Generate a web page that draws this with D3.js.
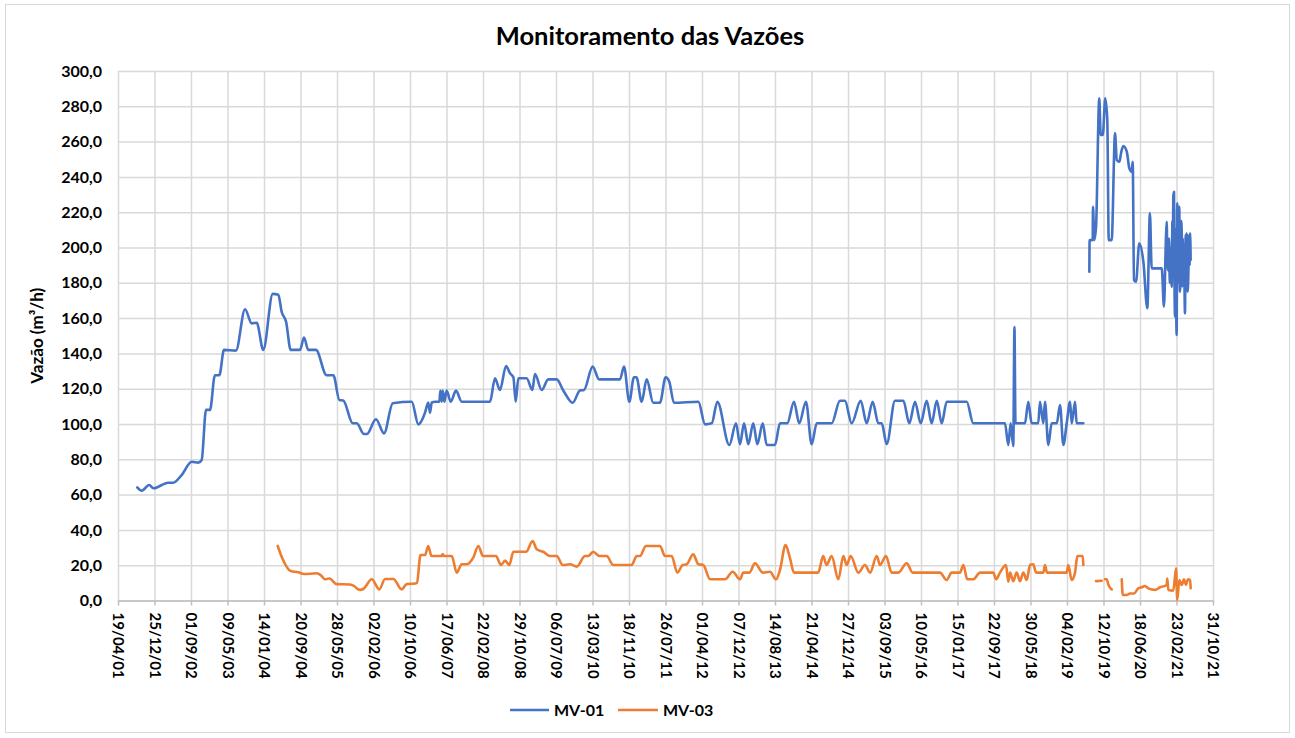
<!DOCTYPE html>
<html>
<head>
<meta charset="utf-8">
<script src="https://cdn.jsdelivr.net/npm/d3@7"></script>
<style>
  html, body { margin: 0; padding: 0; background: #ffffff; }
  svg { display: block; font-family: Lato, "Open Sans", sans-serif; }
</style>
</head>
<body>
<svg id="chart" width="1295" height="738"></svg>
<script>
// ---- Data -------------------------------------------------------------
const xTickLabels = ["19/04/01","25/12/01","01/09/02","09/05/03","14/01/04","20/09/04","28/05/05",
  "02/02/06","10/10/06","17/06/07","22/02/08","29/10/08","06/07/09","13/03/10","18/11/10","26/07/11",
  "01/04/12","07/12/12","14/08/13","21/04/14","27/12/14","03/09/15","10/05/16","15/01/17","22/09/17",
  "30/05/18","04/02/19","12/10/19","18/06/20","23/02/21","31/10/21"];
const yTicks = [0,20,40,60,80,100,120,140,160,180,200,220,240,260,280,300];
const seriesNames = ["MV-01", "MV-03"];

// MV-01 flow readings (m³/h); null marks a break in the record
const mv01Dates = [
  "2001-08-29","2001-09-28","2001-11-19","2001-12-17","2002-03-29","2002-05-02","2002-06-29","2002-09-06",
  "2002-10-21","2002-11-13","2002-12-13","2003-01-09","2003-02-12","2003-03-14","2003-04-15","2003-07-06",
  "2003-09-06","2003-10-22","2003-11-25","2004-01-09","2004-03-14","2004-04-21","2004-05-14","2004-06-13",
  "2004-07-15","2004-09-17","2004-10-14","2004-11-12","2005-01-04","2005-03-18","2005-05-03","2005-06-13",
  "2005-07-10","2005-09-13","2005-10-10","2005-11-29","2005-12-18","2006-02-19","2006-04-15","2006-06-14",
  "2006-10-22","2006-12-06","2007-01-21","2007-02-12","2007-02-24","2007-03-08","2007-03-30","2007-04-29",
  "2007-05-06","2007-05-15","2007-05-22","2007-06-02","2007-06-18","2007-07-16","2007-08-21","2007-09-29",
  "2008-04-10","2008-05-14","2008-06-17","2008-07-29","2008-08-25","2008-09-17","2008-10-03","2008-10-21",
  "2008-12-17","2009-01-25","2009-02-12","2009-03-30","2009-05-14","2009-07-11","2009-08-25","2009-10-28",
  "2009-12-17","2010-01-14","2010-03-14","2010-04-27","2010-09-17","2010-10-15","2010-11-20","2010-12-22",
  "2011-01-08","2011-02-13","2011-03-19","2011-05-03","2011-06-18","2011-07-27","2011-08-21","2011-09-22",
  "2012-03-07","2012-04-22","2012-06-07","2012-07-15","2012-10-05","2012-11-20","2012-12-17","2013-01-14",
  "2013-02-12","2013-03-18","2013-04-15","2013-05-22","2013-06-18","2013-08-14","2013-09-17","2013-11-06",
  "2013-12-22","2014-01-27","2014-03-14","2014-04-22","2014-05-27","2014-09-06","2014-11-02","2014-12-06",
  "2015-01-21","2015-03-24","2015-05-04","2015-06-14","2015-07-23","2015-08-15","2015-09-18","2015-11-14",
  "2016-01-10","2016-02-20","2016-03-30","2016-05-08","2016-06-18","2016-07-22","2016-08-26","2016-09-29",
  "2016-11-02","2017-03-19","2017-05-03","2017-12-06","2017-12-29","2018-01-14","2018-02-01","2018-02-09",
  "2018-02-16","2018-03-14","2018-04-22","2018-05-15","2018-06-07","2018-07-22","2018-08-03","2018-08-26",
  "2018-09-06","2018-09-29","2018-10-22","2018-11-26","2018-12-18","2019-01-10","2019-02-02","2019-02-25",
  "2019-03-08","2019-03-31","2019-04-11","2019-05-27","2019-06-15",
  "2019-07-07","2019-07-09","2019-07-30","2019-08-01","2019-08-10","2019-08-22","2019-09-13","2019-09-23",
  "2019-10-07","2019-10-24","2019-11-07","2019-11-17","2019-12-07","2019-12-30","2020-01-11","2020-01-29",
  "2020-02-09","2020-02-24","2020-03-19","2020-04-06","2020-04-22","2020-04-29","2020-05-08","2020-05-22",
  "2020-06-13","2020-07-11","2020-08-07","2020-08-25","2020-09-06","2020-11-14","2020-11-29","2020-12-13",
  "2020-12-18","2020-12-23","2020-12-29","2021-01-03","2021-01-08","2021-01-13","2021-01-21","2021-01-26",
  "2021-01-29","2021-02-01","2021-02-06","2021-02-09","2021-02-13","2021-02-17","2021-02-20","2021-02-24",
  "2021-02-28","2021-03-04","2021-03-08","2021-03-14","2021-03-18","2021-03-24","2021-03-27","2021-03-31",
  "2021-04-04","2021-04-07","2021-04-11","2021-04-15","2021-04-22","2021-04-27","2021-05-01","2021-05-04",
  "2021-05-09","2021-05-15","2021-05-20","2021-05-24","2021-05-27","2021-05-31"];
const mv01Values = [
  64.1,62.2,65.4,63.6,66.7,66.7,71.1,78.6,
  78.1,79.6,108.0,108.0,127.6,127.6,142.0,141.6,
  165.0,157.0,157.4,142.0,173.7,173.2,163.6,158.0,
  142.0,142.0,149.0,142.0,142.0,127.6,127.6,113.6,
  113.3,100.4,100.4,94.3,94.3,102.7,94.7,111.8,
  112.6,99.8,106.4,112.2,106.4,112.2,112.6,112.6,
  118.9,112.6,118.9,112.6,118.9,112.6,118.9,112.6,
  112.6,125.9,119.3,132.9,128.7,126.5,112.6,125.9,
  125.9,119.3,128.3,119.3,125.3,125.3,119.0,112.0,
  119.0,119.3,132.5,125.3,125.3,132.5,112.6,126.5,
  126.5,112.6,125.3,112.0,112.0,126.5,124.0,112.0,
  112.6,99.8,100.4,112.6,88.1,100.4,88.6,100.4,
  88.6,100.4,88.6,100.4,88.1,88.1,100.4,100.4,
  112.6,100.4,112.6,88.6,100.4,100.4,113.2,113.2,
  100.4,113.2,100.4,112.6,100.4,100.4,88.6,113.2,
  113.2,100.4,112.6,100.4,113.2,100.4,113.2,100.4,
  112.6,112.6,100.4,100.4,88.1,100.4,87.5,155.0,
  100.4,100.4,100.4,112.6,100.4,100.4,112.6,100.4,
  112.6,88.1,100.4,100.4,110.8,88.1,100.4,112.6,
  100.4,112.6,100.4,100.4,null,
  186.3,204.2,204.2,223.1,204.2,211.8,284.5,263.7,
  263.7,284.5,272.2,204.2,204.2,264.7,249.6,248.6,
  253.4,257.5,254.5,244.9,243.0,248.6,181.6,180.6,
  202.4,192.0,165.6,219.4,188.2,188.2,166.5,206.0,
  214.6,190.0,187.0,205.0,180.0,200.0,177.8,215.0,
  190.0,228.8,231.6,185.0,160.8,210.0,175.0,150.4,
  225.0,180.0,220.0,223.0,175.0,187.0,215.0,208.0,
  178.0,205.0,184.0,200.0,162.7,207.0,185.0,208.0,
  175.0,184.0,207.0,190.0,208.0,193.0];

// MV-03 flow readings (m³/h); null marks a break in the record
const mv03Dates = [
  "2004-04-17","2004-05-14","2004-07-15","2004-09-05","2004-10-14","2005-01-09","2005-02-05","2005-03-07",
  "2005-04-05","2005-05-26","2005-08-24","2005-09-17","2005-11-02","2005-11-24","2006-01-21","2006-03-14",
  "2006-04-22","2006-06-18","2006-08-14","2006-09-17","2006-11-13","2006-11-27","2006-12-21","2007-01-21",
  "2007-02-12","2007-03-06","2007-05-15","2007-05-22","2007-05-29","2007-07-23","2007-08-26","2007-09-29",
  "2007-11-03","2007-12-18","2008-01-21","2008-02-22","2008-05-21","2008-06-24","2008-07-22","2008-08-20",
  "2008-09-17","2008-12-13","2009-01-27","2009-02-24","2009-04-10","2009-05-26","2009-07-11","2009-08-21",
  "2009-10-10","2009-11-25","2010-01-21","2010-02-12","2010-03-18","2010-04-29","2010-06-18","2010-08-02",
  "2010-12-06","2011-01-10","2011-02-01","2011-03-14","2011-06-18","2011-07-23","2011-09-06","2011-10-15",
  "2011-11-21","2011-12-18","2012-02-01","2012-03-07","2012-04-10","2012-05-26","2012-09-06","2012-10-28",
  "2012-12-17","2013-01-09","2013-02-19","2013-03-30","2013-05-22","2013-07-11","2013-08-21","2013-09-17",
  "2013-10-25","2013-11-25","2013-12-22","2014-06-06","2014-07-10","2014-08-02","2014-09-06","2014-10-22",
  "2014-11-25","2014-12-18","2015-01-14","2015-03-08","2015-04-22","2015-05-27","2015-07-12","2015-08-03",
  "2015-09-13","2015-10-22","2015-12-07","2016-02-02","2016-03-14","2016-09-17","2016-11-02","2016-12-06",
  "2017-02-01","2017-02-24","2017-03-23","2017-05-03","2017-06-18","2017-09-17","2017-10-06","2017-11-02",
  "2017-12-13","2017-12-29","2018-01-10","2018-02-01","2018-02-24","2018-03-19","2018-04-11","2018-05-04",
  "2018-05-27","2018-06-18","2018-07-07","2018-08-26","2018-09-06","2018-09-20","2019-02-02","2019-02-13",
  "2019-03-08","2019-03-31","2019-04-16","2019-05-23","2019-05-27","2019-07-01",
  "2019-08-22","2019-09-30","2019-10-10",
  "2019-10-22","2019-11-03","2019-11-14","2019-12-07","2020-01-10",
  "2020-02-14","2020-02-21","2020-03-19","2020-04-11","2020-05-08","2020-06-06","2020-06-30","2020-07-22",
  "2020-08-14","2020-09-29","2020-11-02","2020-12-18","2020-12-22","2020-12-29","2021-02-01","2021-02-20",
  "2021-02-28","2021-03-14","2021-03-31","2021-04-15","2021-04-29","2021-05-13","2021-05-27","2021-05-31"];
const mv03Values = [
  30.9,24.8,16.7,16.0,15.0,15.4,14.4,12.0,
  12.5,9.3,9.1,8.4,6.0,6.5,12.0,6.3,
  12.2,12.2,6.3,9.3,9.6,10.1,25.8,25.8,
  30.9,25.2,25.2,26.3,25.2,25.2,15.8,20.5,
  20.5,24.4,30.9,25.2,25.2,20.1,22.6,20.1,
  27.6,27.6,33.7,29.0,27.6,25.2,25.2,20.1,
  20.5,19.2,25.2,25.2,27.6,25.2,25.2,20.1,
  20.1,25.2,25.2,30.9,30.9,25.2,25.2,15.8,
  20.1,20.5,26.2,20.5,20.1,12.0,12.0,16.3,
  12.0,15.8,15.8,21.1,15.8,16.3,12.0,17.3,
  31.4,23.9,15.8,15.8,25.2,20.1,25.2,12.0,
  25.2,20.1,25.2,15.8,20.1,15.8,25.2,20.1,
  25.2,15.8,15.8,21.1,15.8,15.8,11.6,15.8,
  15.8,20.1,12.0,12.0,15.8,15.8,12.0,15.8,
  20.1,10.6,15.8,11.0,15.8,11.0,15.8,11.6,
  20.1,20.5,15.8,15.8,20.1,15.8,15.8,20.1,
  11.6,15.8,25.2,25.2,20.1,null,
  11.0,11.2,null,
  12.0,12.0,9.0,6.3,null,
  12.0,3.1,3.1,4.0,4.0,6.9,7.5,8.2,
  6.9,6.0,7.5,8.8,12.5,5.9,5.6,18.2,
  0.3,11.6,8.8,12.0,9.0,12.0,11.6,7.0];

// ---- Scales -----------------------------------------------------------
const parseDay = d3.utcParse("%Y-%m-%d");
const parseTick = d3.utcParse("%d/%m/%y");
const tickDates = xTickLabels.map(parseTick);

const plot = { left: 118, right: 1213, top: 71, bottom: 600.5 };

const x = d3.scaleUtc()
  .domain([tickDates[0], tickDates[tickDates.length - 1]])
  .range([plot.left, plot.right]);
const y = d3.scaleLinear().domain([0, 300]).range([plot.bottom, plot.top]);

const ptBR = d3.formatLocale({ decimal: ",", thousands: ".", grouping: [3], currency: ["R$", ""] });
const fmtY = ptBR.format(".1f");

const svg = d3.select("#chart");

// chart frame
svg.append("rect")
  .attr("x", 5.5).attr("y", 4.5).attr("width", 1284).attr("height", 728)
  .attr("fill", "#ffffff").attr("stroke", "#d9d9d9").attr("stroke-width", 1);

// title
svg.append("text")
  .attr("x", 650).attr("y", 45)
  .attr("text-anchor", "middle")
  .attr("font-size", 25.5).attr("font-weight", 700).attr("fill", "#000")
  .text("Monitoramento das Vazões");

// horizontal gridlines + y labels
const gy = svg.append("g")
  .attr("transform", `translate(${plot.left},0)`)
  .call(d3.axisLeft(y).tickValues(yTicks).tickFormat(fmtY)
    .tickSize(-(plot.right - plot.left)).tickPadding(16));
gy.select(".domain").remove();
gy.selectAll(".tick line").attr("stroke", "#d9d9d9").attr("stroke-width", 1.5);
gy.selectAll(".tick text")
  .attr("font-family", "Lato, sans-serif").attr("font-size", 16).attr("font-weight", 700).attr("fill", "#000");

// vertical gridlines
const gx = svg.append("g")
  .attr("transform", `translate(0,${plot.bottom})`)
  .call(d3.axisBottom(x).tickValues(tickDates).tickFormat(d3.utcFormat("%d/%m/%y"))
    .tickSizeInner(-(plot.bottom - plot.top)).tickSizeOuter(0));
gx.select(".domain").remove();
gx.selectAll(".tick line").attr("stroke", "#d9d9d9").attr("stroke-width", 1.5);
gx.selectAll(".tick text").remove();

// x axis line, tick marks and rotated date labels
const gxa = svg.append("g")
  .attr("transform", `translate(0,${plot.bottom})`)
  .call(d3.axisBottom(x).tickValues(tickDates).tickFormat(d3.utcFormat("%d/%m/%y"))
    .tickSizeInner(5).tickSizeOuter(0));
gxa.select(".domain").attr("stroke", "#bfbfbf").attr("stroke-width", 1.5);
gxa.selectAll(".tick line").attr("stroke", "#bfbfbf").attr("stroke-width", 1.5);
gxa.selectAll(".tick text")
  .attr("font-family", "Lato, sans-serif").attr("font-size", 15).attr("font-weight", 700).attr("fill", "#000")
  .attr("transform", "rotate(90)")
  .attr("x", 12).attr("y", 0).attr("dy", "0.35em")
  .attr("text-anchor", "start");

// y axis title
svg.append("text")
  .attr("transform", `translate(43,${(plot.top + plot.bottom) / 2}) rotate(-90)`)
  .attr("text-anchor", "middle")
  .attr("font-size", 17).attr("font-weight", 700).attr("fill", "#000")
  .text("Vazão (m³/h)");

// ---- Series -----------------------------------------------------------
const colors = ["#4472C4", "#ED7D31"];
const series = [
  mv01Dates.map((d, i) => ({ date: parseDay(d), value: mv01Values[i] })),
  mv03Dates.map((d, i) => ({ date: parseDay(d), value: mv03Values[i] }))
];

const line = d3.line()
  .defined(d => d.value !== null)
  .x(d => x(d.date))
  .y(d => y(d.value))
  .curve(d3.curveMonotoneX);

series.forEach((s, i) => {
  svg.append("path")
    .datum(s)
    .attr("fill", "none")
    .attr("stroke", colors[i])
    .attr("stroke-width", 2.6)
    .attr("stroke-linejoin", "round")
    .attr("stroke-linecap", "round")
    .attr("d", line);
});

// ---- Legend -----------------------------------------------------------
const legendItems = [
  { name: seriesNames[0], color: colors[0], x0: 510, x1: 549, tx: 554 },
  { name: seriesNames[1], color: colors[1], x0: 618, x1: 658, tx: 663 }
];
const lg = svg.append("g");
legendItems.forEach(it => {
  lg.append("line")
    .attr("x1", it.x0).attr("x2", it.x1).attr("y1", 710).attr("y2", 710)
    .attr("stroke", it.color).attr("stroke-width", 2.6);
  lg.append("text")
    .attr("x", it.tx).attr("y", 710).attr("dy", "0.35em")
    .attr("font-size", 16).attr("font-weight", 700).attr("fill", "#000")
    .text(it.name);
});
</script>
</body>
</html>
